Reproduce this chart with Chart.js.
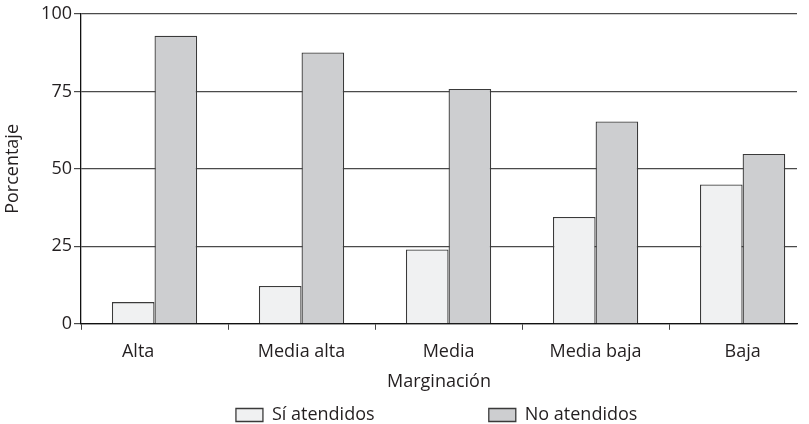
<!DOCTYPE html>
<html>
<head>
<meta charset="utf-8">
<script src="https://cdn.jsdelivr.net/npm/chart.js@4"></script>
<style>
  html, body { margin: 0; padding: 0; background: #fff; }
</style>
</head>
<body>
<canvas id="grafica" width="809" height="424"></canvas>
<script>
const categorias = ['Alta', 'Media alta', 'Media', 'Media baja', 'Baja'];
const siAtendidos = [7, 12.2, 24, 34.5, 45];
const noAtendidos = [93, 87.6, 75.8, 65.3, 54.8];
const ticksY = [0, 25, 50, 75, 100];

const fuente = "'Open Sans', sans-serif";
const tinta = '#231f20';
const tam = 18;

// en el original la etiqueta "Alta" queda corrida a la izquierda
const corrimiento = [' '.repeat(7), '', '', '', ''];
// espacio entre las dos entradas de la leyenda
const hueco = [' '.repeat(24), ' '.repeat(1)];

const canvas = document.getElementById('grafica');

const grafica = new Chart(canvas, {
    type: 'bar',
    data: {
        datasets: [{
            label: 'Sí atendidos',
            data: categorias.map((c, i) => ({ x: i, y: siAtendidos[i] })),
            backgroundColor: '#f0f1f2',
            borderColor: '#3a3a3a',
            borderWidth: 1.3
        }, {
            label: 'No atendidos',
            data: categorias.map((c, i) => ({ x: i, y: noAtendidos[i] })),
            backgroundColor: '#cdced0',
            borderColor: '#3a3a3a',
            borderWidth: 1.3
        }]
    },
    options: {
        responsive: false,
        animation: false,
        categoryPercentage: 0.58,
        barPercentage: 1,
        layout: { padding: { top: 14, right: 12, left: 2, bottom: 0 } },
        plugins: {
            tooltip: { enabled: false },
            legend: {
                position: 'bottom',
                fullSize: false,
                maxHeight: 20,
                labels: {
                    boxWidth: 27,
                    boxHeight: 13,
                    padding: 2,
                    color: tinta,
                    font: { family: fuente, size: tam },
                    generateLabels: (chart) => {
                        const items = Chart.defaults.plugins.legend.labels.generateLabels(chart);
                        items.forEach((it, i) => { it.text = it.text + hueco[i]; });
                        return items;
                    }
                }
            }
        },
        scales: {
            x: {
                type: 'linear',
                offset: false,
                min: -0.5,
                max: 4.37,
                afterBuildTicks: (eje) => {
                    eje.ticks = categorias.map((c, i) => ({ value: i }));
                },
                ticks: {
                    autoSkip: false,
                    maxRotation: 0,
                    color: tinta,
                    padding: 11,
                    font: { family: fuente, size: tam },
                    callback: (v) => categorias[v] + corrimiento[v]
                },
                grid: {
                    offset: true,
                    drawOnChartArea: false,
                    tickLength: 6,
                    color: '#444444'
                },
                border: { color: '#111111', width: 1.3 },
                title: {
                    display: true,
                    text: 'Marginación',
                    color: tinta,
                    padding: { top: -2, bottom: 11 },
                    font: { family: fuente, size: tam }
                }
            },
            y: {
                min: 0,
                max: 100,
                afterFit: (eje) => { eje.width = 79; },
                afterBuildTicks: (eje) => {
                    eje.ticks = ticksY.map(v => ({ value: v }));
                },
                ticks: {
                    color: tinta,
                    padding: 2,
                    font: { family: fuente, size: tam }
                },
                grid: {
                    color: '#4a4a4a',
                    lineWidth: 1.2,
                    tickLength: 7
                },
                border: { color: '#111111', width: 1.3 },
                title: {
                    display: true,
                    text: 'Porcentaje',
                    color: tinta,
                    padding: { top: 0, bottom: 6 },
                    font: { family: fuente, size: tam }
                }
            }
        }
    }
});
</script>
</body>
</html>
